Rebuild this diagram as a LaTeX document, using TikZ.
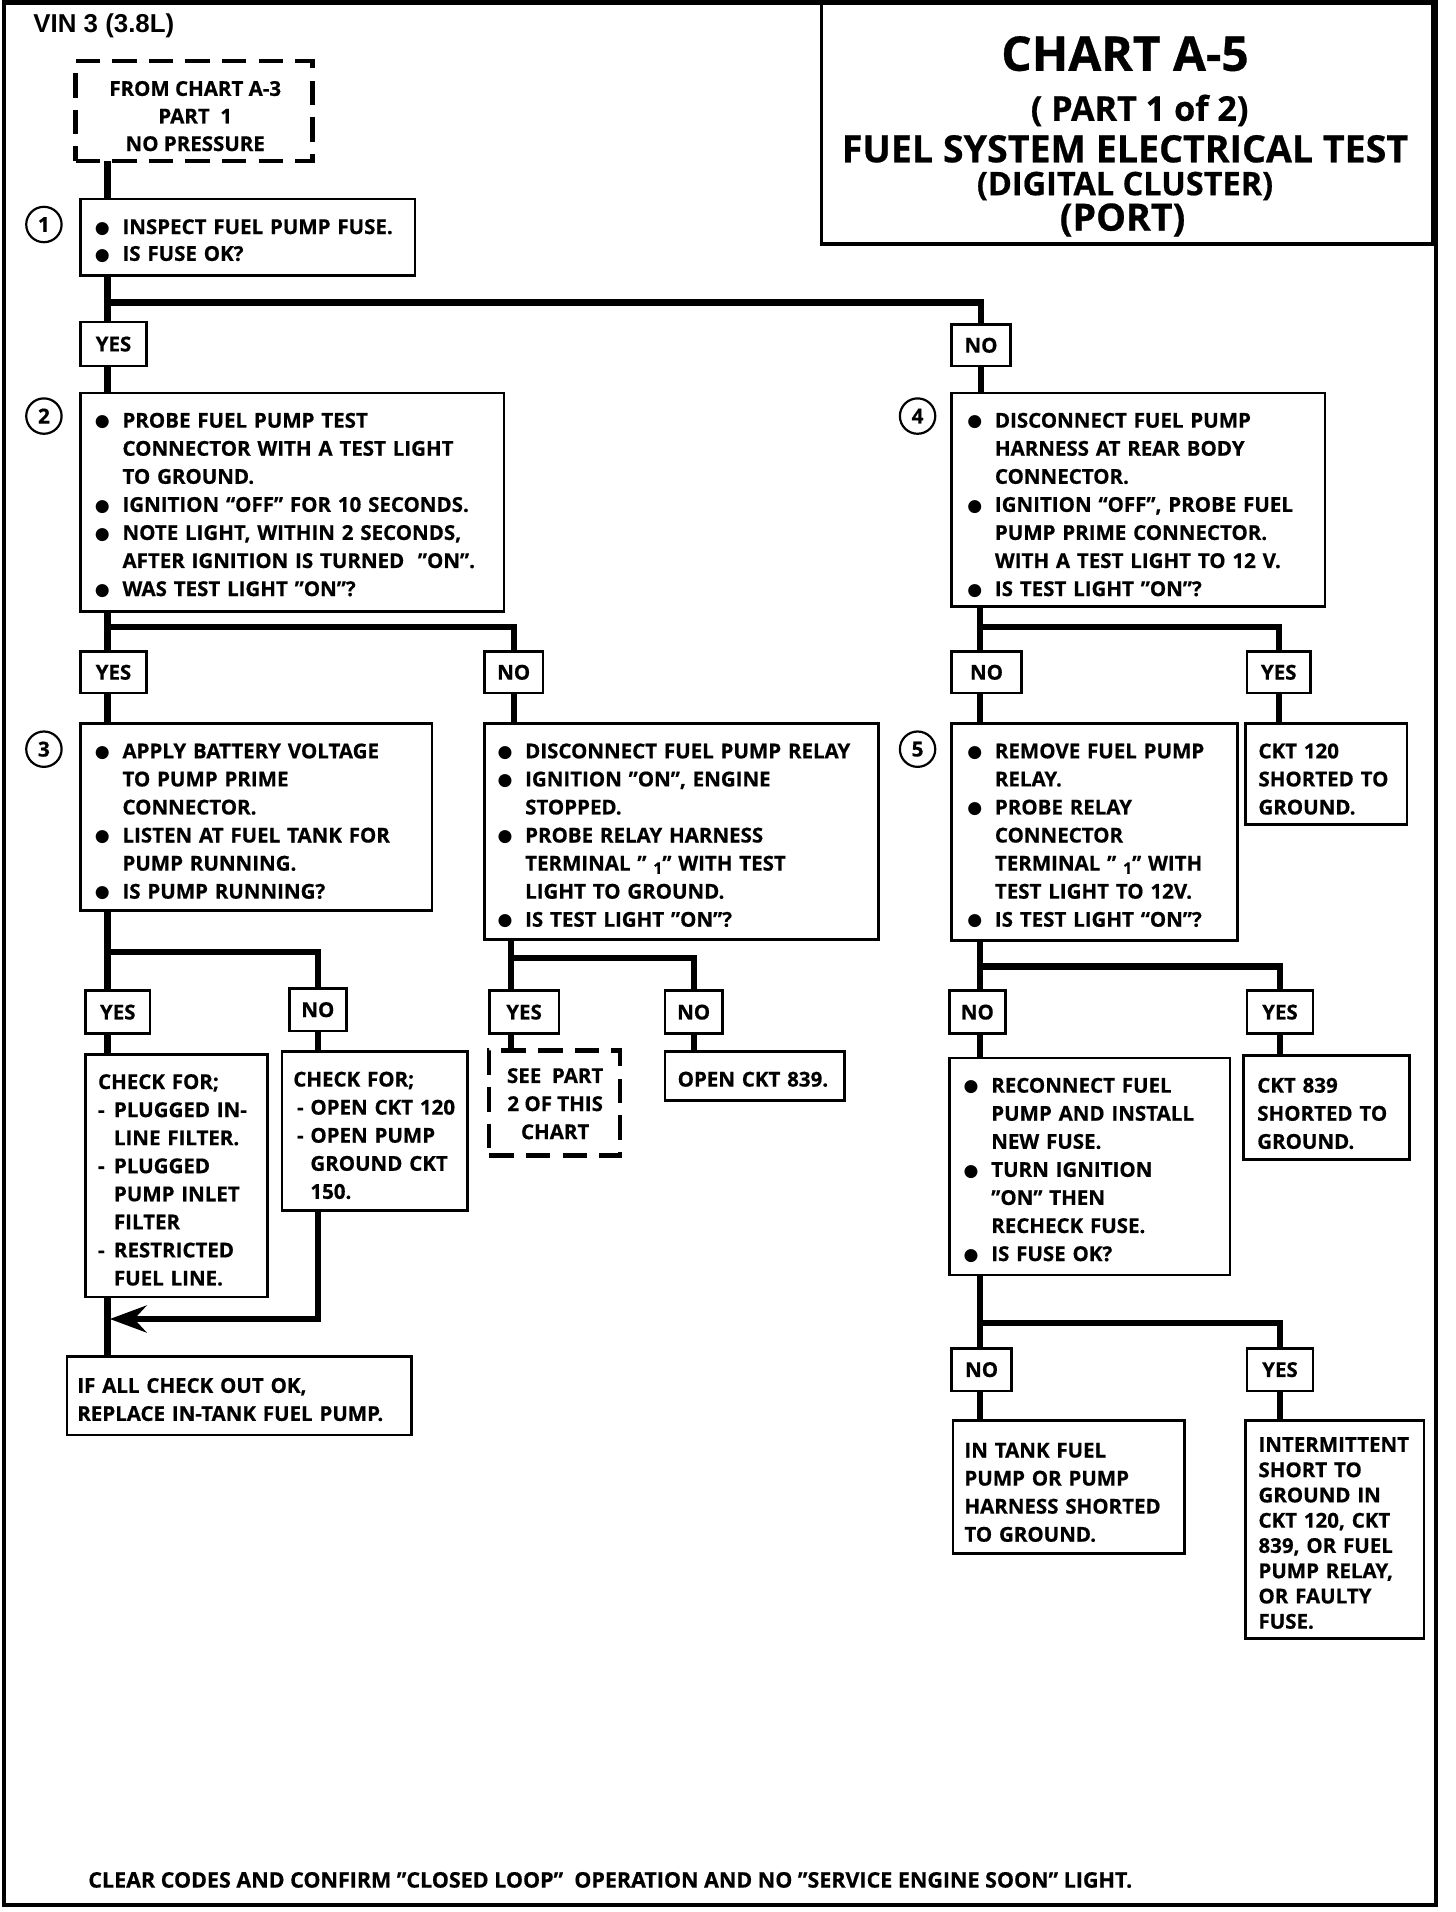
\documentclass[tikz,border=0pt]{standalone}
\usepackage{fontspec}
\setmainfont{Open Sans}[BoldFeatures={FakeBold=0.6}]
\newfontfamily\djv{DejaVu Sans}
\newfontfamily\lsb{Liberation Sans}
\usetikzlibrary{arrows.meta}
\setlength\parindent{0pt}
\newcommand\bxfont{\bfseries\fontsize{8.4}{11.5}\selectfont}
\newcommand\BL{\makebox[11.5pt][l]{\hspace{0.2pt}\raisebox{0.3pt}{\djv\fontsize{7}{7}\selectfont ●}}}
\newcommand\CL{\hspace*{11.5pt}}
\newcommand\DL{\makebox[6.5pt][l]{-}}
\newcommand\DC{\hspace*{6.5pt}}
\newcommand\smone{\raisebox{-1.3pt}{\fontsize{6.5}{7}\selectfont 1}}
\newcommand\bx[7]{\pgfmathsetmacro\myW{(#5-#3)*0.5}\pgfmathsetmacro\myH{(#6-#4)*0.5}%
  \node[#2,minimum width=\myW pt,minimum height=\myH pt] (#1) at (#3,#4) {#7};}
\begin{document}
\begin{tikzpicture}[x=0.5pt,y=-0.5pt,
 box/.style={draw,line width=1.1pt,anchor=north west,inner sep=0pt,outer sep=0pt,fill=white},
 dbox/.style={box,line width=1.8pt,dash pattern=on 10pt off 5pt},
 lbl/.style={box,font=\bxfont},
 txt/.style={anchor=north west,inner sep=0pt,align=left,text width=200pt,font=\bxfont,execute at begin node=\strut},
 ctxt/.style={anchor=north,inner sep=0pt,align=center,font=\bxfont,execute at begin node=\strut},
 num/.style={circle,draw,line width=0.9pt,minimum size=14.5pt,inner sep=0pt,font=\bfseries\fontsize{8.5}{9}\selectfont},
 conn/.style={line width=2.6pt,line join=miter},
 ttl/.style={anchor=base,inner sep=0pt},
]
\useasboundingbox (0,0) rectangle (1193,1567);
\draw[line width=1.7pt] (3,2) rectangle (1177,1561);
% title
\bx{title}{box,line width=1.3pt}{673}{3}{1174}{200}{}
\node[ttl,font=\bfseries\fontsize{19.6}{20}\selectfont] (t1) at (922,58) {CHART A-5};
\node[ttl,font=\bfseries\fontsize{14}{15}\selectfont] (t2) at (934,99) {( PART 1 of 2)};
\node[ttl,font=\bfseries\fontsize{15.4}{16}\selectfont] (t3) at (922,133) {FUEL SYSTEM ELECTRICAL TEST};
\node[ttl,font=\bfseries\fontsize{13.3}{14}\selectfont] (t4) at (922,160) {(DIGITAL CLUSTER)};
\node[ttl,font=\bfseries\fontsize{15.4}{16}\selectfont] (t5) at (920,189) {(PORT)};
\node[anchor=base west,inner sep=0pt,font=\lsb\bfseries\fontsize{10.6}{11}\selectfont] (vin) at (27,27) {VIN 3 (3.8L)};
% boxes
\bx{d0}{dbox}{62}{50}{256}{132}{}
\node[ctxt,font=\bfseries\fontsize{8.4}{11.3}\selectfont] (d0t) at (160,66) {FROM CHART A-3\\PART\ \ 1\\NO PRESSURE};
\bx{b1}{box}{66}{163}{340}{226}{}
\node[txt,font=\bfseries\fontsize{8.4}{11}\selectfont] (b1t) at (77,176) {\BL INSPECT FUEL PUMP FUSE.\\\BL IS FUSE OK?};
\bx{b2}{box}{66}{322}{413}{501}{}
\node[txt] (b2t) at (77,334) {\BL PROBE FUEL PUMP TEST\\\CL CONNECTOR WITH A TEST LIGHT\\\CL TO GROUND.\\\BL IGNITION “OFF” FOR 10 SECONDS.\\\BL NOTE LIGHT, WITHIN 2 SECONDS,\\\CL AFTER IGNITION IS TURNED\ \ ”ON”.\\\BL WAS TEST LIGHT ”ON”?};
\bx{b4}{box}{780}{322}{1086}{497}{}
\node[txt] (b4t) at (792,334) {\BL DISCONNECT FUEL PUMP\\\CL HARNESS AT REAR BODY\\\CL CONNECTOR.\\\BL IGNITION “OFF”, PROBE FUEL\\\CL PUMP PRIME CONNECTOR.\\\CL WITH A TEST LIGHT TO 12 V.\\\BL IS TEST LIGHT ”ON”?};
\bx{b3}{box}{66}{593}{354}{746}{}
\node[txt] (b3t) at (77,605) {\BL APPLY BATTERY VOLTAGE\\\CL TO PUMP PRIME\\\CL CONNECTOR.\\\BL LISTEN AT FUEL TANK FOR\\\CL PUMP RUNNING.\\\BL IS PUMP RUNNING?};
\bx{b6}{box}{397}{593}{720}{770}{}
\node[txt] (b6t) at (407,605) {\BL DISCONNECT FUEL PUMP RELAY\\\BL IGNITION ”ON”, ENGINE\\\CL STOPPED.\\\BL PROBE RELAY HARNESS\\\CL TERMINAL ” \smone” WITH TEST\\\CL LIGHT TO GROUND.\\\BL IS TEST LIGHT ”ON”?};
\bx{b5}{box}{780}{593}{1014}{771}{}
\node[txt] (b5t) at (792,605) {\BL REMOVE FUEL PUMP\\\CL RELAY.\\\BL PROBE RELAY\\\CL CONNECTOR\\\CL TERMINAL ” \smone” WITH\\\CL TEST LIGHT TO 12V.\\\BL IS TEST LIGHT “ON”?};
\bx{c120}{box}{1021}{593}{1153}{676}{}
\node[txt] (c120t) at (1031,605) {CKT 120\\SHORTED TO\\GROUND.};
\bx{chk1}{box}{70}{864}{219}{1063}{}
\node[txt] (chk1t) at (80,876) {CHECK FOR;\\\DL PLUGGED IN-\\\DC LINE FILTER.\\\DL PLUGGED\\\DC PUMP INLET\\\DC FILTER\\\DL RESTRICTED\\\DC FUEL LINE.};
\bx{chk2}{box}{231}{862}{383}{992}{}
\node[txt] (chk2t) at (240,874) {CHECK FOR;\\\hspace*{1.5pt}\makebox[5.5pt][l]{-}OPEN CKT 120\\\hspace*{1.5pt}\makebox[5.5pt][l]{-}OPEN PUMP\\\hspace*{7pt}GROUND CKT\\\hspace*{7pt}150.};
\bx{see}{dbox}{401}{861}{508}{947}{}
\node[ctxt] (seet) at (455,875) {SEE\ \ PART\\2 OF THIS\\CHART};
\bx{open}{box}{545}{862}{692}{902}{}
\node[txt] (opent) at (555,874) {OPEN CKT 839.};
\bx{b7}{box}{778}{867}{1008}{1045}{}
\node[txt] (b7t) at (789,879) {\BL RECONNECT FUEL\\\CL PUMP AND INSTALL\\\CL NEW FUSE.\\\BL TURN IGNITION\\\CL ”ON” THEN\\\CL RECHECK FUSE.\\\BL IS FUSE OK?};
\bx{c839}{box}{1019}{865}{1155}{950}{}
\node[txt] (c839t) at (1030,879) {CKT 839\\SHORTED TO\\GROUND.};
\bx{fin}{box}{55}{1112}{337}{1176}{}
\node[txt] (fint) at (63,1125) {IF ALL CHECK OUT OK,\\REPLACE IN-TANK FUEL PUMP.};
\bx{b8}{box}{781}{1164}{971}{1273}{}
\node[txt] (b8t) at (790,1178) {IN TANK FUEL\\PUMP OR PUMP\\HARNESS SHORTED\\TO GROUND.};
\bx{b9}{box}{1021}{1164}{1167}{1343}{}
\node[txt,font=\bfseries\fontsize{8.4}{10.35}\selectfont] (b9t) at (1031,1175) {INTERMITTENT\\SHORT TO\\GROUND IN\\CKT 120, CKT\\839, OR FUEL\\PUMP RELAY,\\OR FAULTY\\FUSE.};
% labels
\bx{y1}{lbl}{66}{264}{120}{300}{YES}
\bx{no1}{lbl}{780}{266}{828}{300}{NO}
\bx{y2}{lbl}{66}{534}{120}{568}{YES}
\bx{no2}{lbl}{397}{534}{445}{568}{NO}
\bx{no4}{lbl}{780}{534}{837}{568}{NO}
\bx{yes4}{lbl}{1022}{534}{1074}{568}{YES}
\bx{yes3}{lbl}{70}{812}{123}{847}{YES}
\bx{no3}{lbl}{237}{810}{284}{845}{NO}
\bx{yes6}{lbl}{401}{812}{458}{847}{YES}
\bx{no6}{lbl}{545}{812}{592}{847}{NO}
\bx{no5}{lbl}{778}{812}{824}{847}{NO}
\bx{yes5}{lbl}{1022}{812}{1076}{847}{YES}
\bx{no7}{lbl}{780}{1105}{829}{1140}{NO}
\bx{yes7}{lbl}{1022}{1105}{1076}{1140}{YES}
% step numbers
\node[num] (n1) at (36,184) {1};
\node[num] (n2) at (36,341) {2};
\node[num] (n3) at (36,614) {3};
\node[num] (n4) at (752,341) {4};
\node[num] (n5) at (752,614) {5};
% connectors
\coordinate (j1) at (88,248);
\draw[conn] (d0.south -| j1) -- (b1.north -| j1);
\draw[conn] (b1.south -| j1) -- (y1.north -| j1);
\draw[conn] (j1) -| (no1.north);
\draw[conn] (y1.south -| j1) -- (b2.north -| j1);
\draw[conn] (no1.south) -- (no1.south |- b4.north);
\coordinate (j2) at (88,514);
\draw[conn] (b2.south -| j2) -- (y2.north -| j2);
\draw[conn] (j2) -| (no2.north);
\draw[conn] (y2.south -| j2) -- (b3.north -| j2);
\draw[conn] (no2.south) -- (no2.south |- b6.north);
\coordinate (j4) at (803,514);
\draw[conn] (b4.south -| j4) -- (no4.north -| j4);
\draw[conn] (j4) -| (yes4.north);
\draw[conn] (no4.south -| j4) -- (b5.north -| j4);
\draw[conn] (yes4.south) -- (yes4.south |- c120.north);
\coordinate (j3) at (88,780);
\draw[conn] (b3.south -| j3) -- (yes3.north -| j3);
\draw[conn] (j3) -| (no3.north);
\draw[conn] (yes3.south -| j3) -- (chk1.north -| j3);
\draw[conn] (no3.south) -- (no3.south |- chk2.north);
\coordinate (ah) at (90,1081);
\draw[conn,-{Stealth[length=15pt,width=11pt,inset=5pt]}] (no3.south |- chk2.south) |- (ah);
\draw[conn] (chk1.south -| j3) -- (fin.north -| j3);
\coordinate (j6) at (419,785);
\draw[conn] (b6.south -| j6) -- (yes6.north -| j6);
\draw[conn] (j6) -| (no6.north);
\draw[conn] (yes6.south -| j6) -- (see.north -| j6);
\draw[conn] (no6.south) -- (no6.south |- open.north);
\coordinate (j5) at (803,792);
\draw[conn] (b5.south -| j5) -- (no5.north -| j5);
\draw[conn] (j5) -| (yes5.north);
\draw[conn] (no5.south -| j5) -- (b7.north -| j5);
\draw[conn] (yes5.south) -- (yes5.south |- c839.north);
\coordinate (j7) at (803,1084);
\draw[conn] (b7.south -| j7) -- (no7.north -| j7);
\draw[conn] (j7) -| (yes7.north);
\draw[conn] (no7.south -| j7) -- (b8.north -| j7);
\draw[conn] (yes7.south) -- (yes7.south |- b9.north);
% footer
\node[anchor=base west,inner sep=0pt,font=\bfseries\fontsize{8.8}{11}\selectfont] (foot) at (72,1547) {CLEAR CODES AND CONFIRM ”CLOSED LOOP”\ \ OPERATION AND NO ”SERVICE ENGINE SOON” LIGHT.};
\end{tikzpicture}
\end{document}
